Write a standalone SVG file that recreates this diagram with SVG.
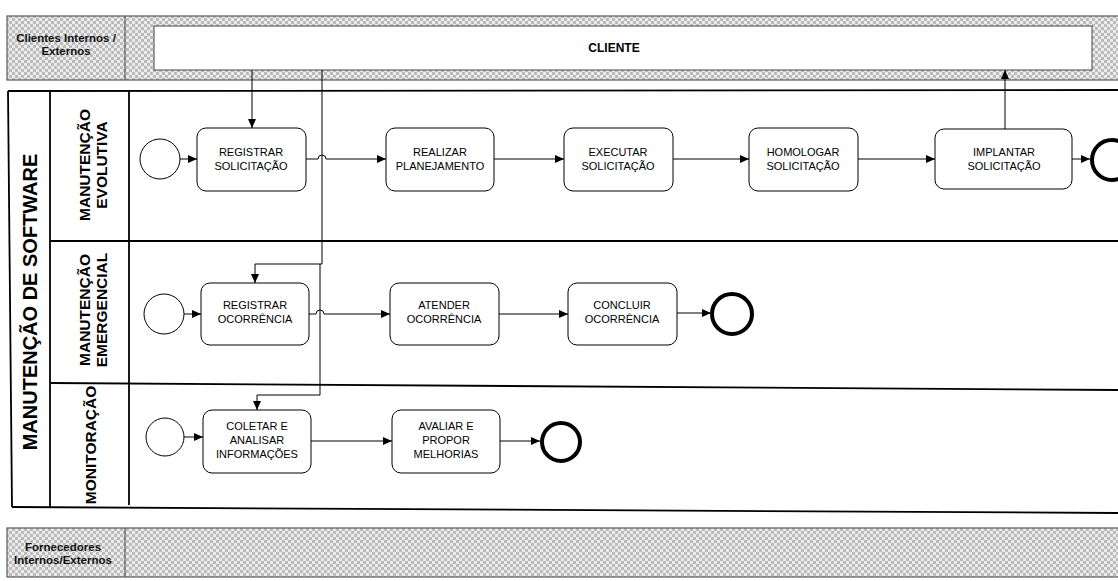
<svg xmlns="http://www.w3.org/2000/svg" width="1118" height="581" viewBox="0 0 1118 581">
  <style>
    .band { fill: url(#checker); stroke: #5a5a5a; stroke-width: 1.2; }
    .sep { stroke: #5a5a5a; stroke-width: 1.2; }
    .pool { fill: none; stroke: #000; stroke-width: 1.8; }
    .task { fill: #fff; stroke: #000; stroke-width: 1; }
    .start { fill: #fff; stroke: #000; stroke-width: 1; }
    .end { fill: #fff; stroke: #000; stroke-width: 4; }
    .flow { fill: none; stroke: #000; stroke-width: 1; }
    .lbl { font-family: "Liberation Sans", Arial, sans-serif; font-size: 11px; text-anchor: middle; fill: #000; }
    .bold { font-weight: bold; }
    .band-lbl { font-family: "Liberation Sans", Arial, sans-serif; font-size: 11.5px; font-weight: bold; text-anchor: middle; fill: #111; }
    .lane { font-family: "Liberation Sans", Arial, sans-serif; font-size: 15.5px; font-weight: bold; text-anchor: middle; }
    .title { font-family: "Liberation Sans", Arial, sans-serif; font-size: 20px; font-weight: bold; text-anchor: middle; }
  </style>
  <defs>
    <pattern id="checker" width="6" height="6" patternUnits="userSpaceOnUse">
      <rect width="6" height="6" fill="#ebebeb"/>
      <rect width="3" height="3" fill="#bcbcbc"/>
      <rect x="3" y="3" width="3" height="3" fill="#bcbcbc"/>
    </pattern>
    <marker id="arr" markerWidth="10" markerHeight="8" refX="9" refY="4" orient="auto" markerUnits="userSpaceOnUse">
      <path d="M0,0 L9,4 L0,8 Z" fill="#000"/>
    </marker>
  </defs>

  <rect width="1118" height="581" fill="#fff"/>

  <!-- External participant bands -->
  <g id="clientes">
    <rect class="band" x="7" y="16" width="1115" height="64"/>
    <line class="sep" x1="125" y1="16" x2="125" y2="80"/>
    <text class="band-lbl" x="66" y="42">Clientes Internos /</text>
    <text class="band-lbl" x="66" y="55">Externos</text>
  </g>
  <g id="cliente">
    <rect x="154" y="26" width="938" height="44" fill="#fff" stroke="#444" stroke-width="1"/>
    <text class="lbl bold" x="614" y="52" style="font-size:12px">CLIENTE</text>
  </g>
  <g id="fornecedores">
    <rect class="band" x="7" y="528" width="1115" height="49"/>
    <line class="sep" x1="125" y1="528" x2="125" y2="577"/>
    <text class="band-lbl" x="63" y="551">Fornecedores</text>
    <text class="band-lbl" x="63" y="564">Internos/Externos</text>
  </g>

  <!-- Pool and lanes -->
  <g id="pool">
    <line class="pool" x1="8" y1="91" x2="1118" y2="90"/>
    <line class="pool" x1="8" y1="91" x2="12" y2="507"/>
    <line class="pool" x1="12" y1="507" x2="1118" y2="513"/>
    <line class="pool" x1="50" y1="91" x2="50" y2="507"/>
    <line class="pool" x1="129" y1="91" x2="129" y2="505"/>
    <line class="pool" x1="50" y1="241" x2="1118" y2="241"/>
    <line class="pool" x1="50" y1="383" x2="1118" y2="390"/>
    <text class="title" transform="translate(37,302) rotate(-90)">MANUTENÇÃO DE SOFTWARE</text>
  </g>
  <g id="lane-evolutiva">
    <text class="lane" transform="translate(90,165) rotate(-90)">MANUTENÇÃO</text>
    <text class="lane" transform="translate(107,165) rotate(-90)">EVOLUTIVA</text>
  </g>
  <g id="lane-emergencial">
    <text class="lane" transform="translate(90,310) rotate(-90)">MANUTENÇÃO</text>
    <text class="lane" transform="translate(107,310) rotate(-90)">EMERGENCIAL</text>
  </g>
  <g id="lane-monitoracao">
    <text class="lane" transform="translate(96,445) rotate(-90)">MONITORAÇÃO</text>
  </g>

  <!-- Connectors -->
  <g id="connectors">
    <path class="flow" d="M252,70 V128" marker-end="url(#arr)"/>
    <path class="flow" d="M322,70 V264 H255 V283" marker-end="url(#arr)"/>
    <path class="flow" d="M320,264 V395 H257 V410" marker-end="url(#arr)"/>
    <path class="flow" d="M1005,129 V70" marker-end="url(#arr)"/>

    <path class="flow" d="M180,159 H197" marker-end="url(#arr)"/>
    <path class="flow" d="M306,159 H318 A4,4 0 0 1 326,159 H386" marker-end="url(#arr)"/>
    <path class="flow" d="M494,159 H564" marker-end="url(#arr)"/>
    <path class="flow" d="M673,159 H749" marker-end="url(#arr)"/>
    <path class="flow" d="M858,159 H935" marker-end="url(#arr)"/>
    <path class="flow" d="M1072,159 H1090" marker-end="url(#arr)"/>

    <path class="flow" d="M184,314 H201" marker-end="url(#arr)"/>
    <path class="flow" d="M309,314 H316 A4,4 0 0 1 324,314 H390" marker-end="url(#arr)"/>
    <path class="flow" d="M499,314 H568" marker-end="url(#arr)"/>
    <path class="flow" d="M677,313 H711" marker-end="url(#arr)"/>

    <path class="flow" d="M184,437 H203" marker-end="url(#arr)"/>
    <path class="flow" d="M311,441 H392" marker-end="url(#arr)"/>
    <path class="flow" d="M500,441 H540" marker-end="url(#arr)"/>
  </g>

  <!-- Evolutiva lane nodes -->
  <g id="start-evolutiva"><circle class="start" cx="160" cy="159" r="20"/></g>
  <g id="registrar-solicitacao">
    <rect class="task" x="197" y="128" width="109" height="63" rx="9"/>
    <text class="lbl" x="251" y="156">REGISTRAR</text>
    <text class="lbl" x="251" y="170">SOLICITAÇÃO</text>
  </g>
  <g id="realizar-planejamento">
    <rect class="task" x="386" y="128" width="108" height="63" rx="9"/>
    <text class="lbl" x="440" y="156">REALIZAR</text>
    <text class="lbl" x="440" y="170">PLANEJAMENTO</text>
  </g>
  <g id="executar-solicitacao">
    <rect class="task" x="564" y="128" width="109" height="63" rx="9"/>
    <text class="lbl" x="618" y="156">EXECUTAR</text>
    <text class="lbl" x="618" y="170">SOLICITAÇÃO</text>
  </g>
  <g id="homologar-solicitacao">
    <rect class="task" x="749" y="128" width="109" height="63" rx="9"/>
    <text class="lbl" x="803" y="156">HOMOLOGAR</text>
    <text class="lbl" x="803" y="170">SOLICITAÇÃO</text>
  </g>
  <g id="implantar-solicitacao">
    <rect class="task" x="935" y="129" width="137" height="60" rx="9"/>
    <text class="lbl" x="1004" y="156">IMPLANTAR</text>
    <text class="lbl" x="1004" y="170">SOLICITAÇÃO</text>
  </g>
  <g id="end-evolutiva"><circle class="end" cx="1112" cy="160" r="20"/></g>

  <!-- Emergencial lane nodes -->
  <g id="start-emergencial"><circle class="start" cx="164" cy="314" r="20"/></g>
  <g id="registrar-ocorrencia">
    <rect class="task" x="201" y="283" width="108" height="62" rx="9"/>
    <text class="lbl" x="255" y="309">REGISTRAR</text>
    <text class="lbl" x="255" y="323">OCORRÊNCIA</text>
  </g>
  <g id="atender-ocorrencia">
    <rect class="task" x="390" y="283" width="109" height="62" rx="9"/>
    <text class="lbl" x="444" y="309">ATENDER</text>
    <text class="lbl" x="444" y="323">OCORRÊNCIA</text>
  </g>
  <g id="concluir-ocorrencia">
    <rect class="task" x="568" y="283" width="109" height="62" rx="9"/>
    <text class="lbl" x="622" y="309">CONCLUIR</text>
    <text class="lbl" x="622" y="323">OCORRÊNCIA</text>
  </g>
  <g id="end-emergencial"><circle class="end" cx="732" cy="314" r="20"/></g>

  <!-- Monitoracao lane nodes -->
  <g id="start-monitoracao"><circle class="start" cx="165" cy="437" r="19"/></g>
  <g id="coletar-analisar">
    <rect class="task" x="203" y="410" width="108" height="63" rx="9"/>
    <text class="lbl" x="257" y="430">COLETAR E</text>
    <text class="lbl" x="257" y="444">ANALISAR</text>
    <text class="lbl" x="257" y="458">INFORMAÇÕES</text>
  </g>
  <g id="avaliar-propor">
    <rect class="task" x="392" y="410" width="108" height="63" rx="9"/>
    <text class="lbl" x="446" y="430">AVALIAR E</text>
    <text class="lbl" x="446" y="444">PROPOR</text>
    <text class="lbl" x="446" y="458">MELHORIAS</text>
  </g>
  <g id="end-monitoracao"><circle class="end" cx="561" cy="442" r="19"/></g>
</svg>
